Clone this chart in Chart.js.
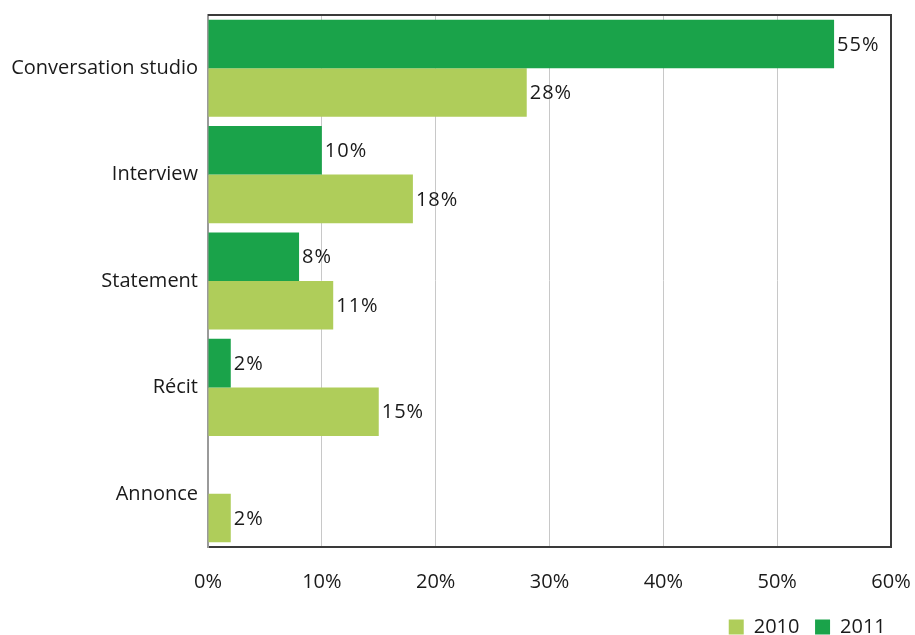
<!DOCTYPE html>
<html>
<head>
<meta charset="utf-8">
<script src="https://cdn.jsdelivr.net/npm/chart.js@4"></script>
<style>
  html, body { margin: 0; padding: 0; background: #fff; }
  #wrap { width: 915px; height: 635px; }
</style>
</head>
<body>
<div id="wrap"><canvas id="chart" width="915" height="635"></canvas></div>
<script>
const categories = ['Conversation studio', 'Interview', 'Statement', 'Récit', 'Annonce'];
const values2011 = [55, 10, 8, 2, null];
const values2010 = [28, 18, 11, 15, 2];
const xTicks = [0, 10, 20, 30, 40, 50, 60];

const COLORS = {
  y2011: '#1aa34a',
  y2010: '#afcd5a',
  grid: '#c8c8c8',
  frame: '#3a3a3a',
  text: '#1a1a1a',
};

const FONT = "'Open Sans', sans-serif";
Chart.defaults.font.family = FONT;
Chart.defaults.color = COLORS.text;

// value labels next to each bar end + frame on top/right of plot area
const barLabels = {
  id: 'barLabels',
  afterDatasetsDraw(chart) {
    const ctx = chart.ctx;
    ctx.save();
    ctx.font = `20px ${FONT}`;
    ctx.letterSpacing = '1px';
    ctx.fillStyle = COLORS.text;
    ctx.textAlign = 'left';
    ctx.textBaseline = 'middle';
    chart.data.datasets.forEach((ds, i) => {
      const meta = chart.getDatasetMeta(i);
      meta.data.forEach((bar, j) => {
        const v = ds.data[j];
        if (v == null || v === 0) return;
        ctx.fillText(v + '%', bar.x + 3, bar.y + 1);
      });
    });
    const a = chart.chartArea;
    ctx.strokeStyle = COLORS.frame;
    ctx.lineWidth = 2;
    ctx.beginPath();
    ctx.moveTo(a.left, a.top);
    ctx.lineTo(a.right, a.top);
    ctx.lineTo(a.right, a.bottom);
    ctx.stroke();
    ctx.restore();
  },
};

new Chart(document.getElementById('chart'), {
  type: 'bar',
  data: {
    labels: categories,
    datasets: [
      { label: '2011', data: values2011, backgroundColor: COLORS.y2011 },
      { label: '2010', data: values2010, backgroundColor: COLORS.y2010 },
    ],
  },
  options: {
    indexAxis: 'y',
    responsive: false,
    animation: false,
    categoryPercentage: 0.913,
    barPercentage: 1,
    layout: { padding: { left: 0, right: 24, top: 15, bottom: -12 } },
    plugins: {
      tooltip: { enabled: false },
      legend: {
        position: 'bottom',
        align: 'end',
        reverse: true,
        labels: {
          boxWidth: 15,
          boxHeight: 15,
          padding: 0,
          font: { size: 20 },
          color: COLORS.text,
          // pad the entry texts with spaces to set the gaps
          generateLabels: (chart) =>
            Chart.defaults.plugins.legend.labels.generateLabels(chart)
              .map((l) => ({ ...l, text: l.text === '2010' ? l.text + '   ' : l.text + ' ' })),
        },
      },
    },
    scales: {
      x: {
        min: 0,
        max: 60,
        afterBuildTicks: (scale) => { scale.ticks = xTicks.map((v) => ({ value: v })); },
        ticks: { callback: (v) => v + '%', font: { size: 20 }, padding: 23 },
        grid: { color: COLORS.grid, drawTicks: false },
        border: { color: COLORS.frame, width: 2 },
        afterFit: (scale) => { scale.height = 70; scale.paddingLeft = 0; scale.paddingRight = 0; },
      },
      y: {
        grid: { display: false, drawTicks: false },
        border: { color: '#9a9a9a', width: 2 },
        ticks: { font: { size: 20 }, padding: 10 },
        afterFit: (scale) => { scale.width = 208; scale.paddingTop = 0; scale.paddingBottom = 0; },
      },
    },
  },
  plugins: [barLabels],
});
</script>
</body>
</html>
